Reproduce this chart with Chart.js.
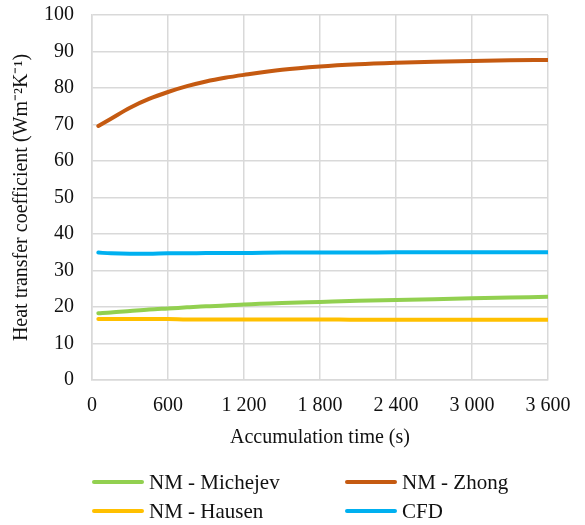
<!DOCTYPE html>
<html>
<head>
<meta charset="utf-8">
<script src="https://cdn.jsdelivr.net/npm/chart.js@4.4.0/dist/chart.umd.min.js"></script>
<style>
  html, body { margin: 0; padding: 0; background: #fff; }
  .wrap { position: relative; width: 585px; height: 525px; }
  #htcChart { display: block; }
  .legend {
    position: absolute; left: 92px; top: 470px;
    display: grid; grid-template-columns: 253px 200px; row-gap: 5px;
    font-family: "Liberation Serif", "Times New Roman", serif; font-size: 21px; color: #111;
  }
  .legend-item { display: flex; align-items: center; height: 24px; }
  .legend-item .swatch { width: 52px; height: 4px; border-radius: 2px; margin-right: 5px; }
</style>
</head>
<body>
<div class="wrap">
  <canvas id="htcChart" width="585" height="525"></canvas>
  <div class="legend" id="legend"></div>
</div>
<script>
  // accumulation time (s)
  const times = [50, 150, 300, 450, 600, 750, 900, 1050, 1200, 1500, 1800, 2100, 2400, 2700, 3000, 3300, 3600];

  // heat transfer coefficient (W m-2 K-1)
  const michejev = [18.3, 18.5, 18.9, 19.3, 19.6, 19.9, 20.2, 20.4, 20.7, 21.1, 21.4, 21.7, 21.9, 22.1, 22.4, 22.6, 22.8];
  const zhong = [69.6, 71.6, 74.6, 77.0, 78.9, 80.5, 81.8, 82.8, 83.6, 85.0, 85.9, 86.5, 86.9, 87.2, 87.4, 87.6, 87.7];
  const hausen = [16.7, 16.7, 16.7, 16.7, 16.7, 16.6, 16.6, 16.6, 16.6, 16.6, 16.6, 16.5, 16.5, 16.5, 16.5, 16.5, 16.5];
  const cfd = [34.9, 34.7, 34.6, 34.6, 34.7, 34.7, 34.8, 34.8, 34.8, 34.9, 34.9, 34.9, 35.0, 35.0, 35.0, 35.0, 35.0];

  const seriesNames = ['NM - Michejev', 'NM - Zhong', 'NM - Hausen', 'CFD'];
  const seriesColors = ['#92d050', '#c55a11', '#ffc000', '#00b0f0'];
  const seriesValues = [michejev, zhong, hausen, cfd];

  const xTicks = [0, 600, 1200, 1800, 2400, 3000, 3600];

  const serif = '"Liberation Serif", "Times New Roman", serif';
  const gridColor = '#d9d9d9';

  const datasets = seriesNames.map((name, i) => ({
    label: name,
    data: times.map((t, j) => ({ x: t, y: seriesValues[i][j] })),
    borderColor: seriesColors[i],
    backgroundColor: seriesColors[i],
    borderWidth: 4,
    pointRadius: 0,
    cubicInterpolationMode: 'monotone',
    borderCapStyle: 'round'
  }));

  // thousands with a space, e.g. 1 200
  function fmtTime(v) {
    return String(v).replace(/\B(?=(\d{3})+(?!\d))/g, ' ');
  }

  const ctx = document.getElementById('htcChart').getContext('2d');
  new Chart(ctx, {
    type: 'line',
    data: { datasets },
    options: {
      responsive: false,
      animation: false,
      layout: { padding: { top: 15, right: 37, bottom: 75, left: 0 } },
      plugins: { legend: { display: false }, tooltip: { enabled: false } },
      scales: {
        x: {
          type: 'linear',
          min: 0, max: 3600,
          afterBuildTicks: (scale) => { scale.ticks = xTicks.map(v => ({ value: v })); },
          afterFit: (scale) => { scale.height = 70; scale.paddingLeft = 0; scale.paddingRight = 0; },
          grid: { color: gridColor, lineWidth: 1.5, drawTicks: false },
          border: { color: gridColor, width: 1.5 },
          ticks: {
            padding: 14, color: '#111', maxRotation: 0,
            font: { family: serif, size: 20 },
            callback: (v) => fmtTime(v)
          },
          title: {
            display: true, text: 'Accumulation time (s)', color: '#111',
            font: { family: serif, size: 20 }, padding: { top: 4, bottom: 0 }
          }
        },
        y: {
          min: 0, max: 100,
          afterFit: (scale) => { scale.width = 92; scale.paddingTop = 0; scale.paddingBottom = 0; },
          grid: { color: gridColor, lineWidth: 1.5, drawTicks: false },
          border: { color: gridColor, width: 1.5 },
          ticks: {
            stepSize: 10, padding: 18, color: '#111',
            font: { family: serif, size: 20 }
          },
          title: {
            display: true, text: 'Heat transfer coefficient (Wm⁻²K⁻¹)', color: '#111',
            font: { family: serif, size: 20 }, padding: { top: 10, bottom: 0 }
          }
        }
      }
    }
  });

  // two-column legend below the plot
  const legendEl = document.getElementById('legend');
  seriesNames.forEach((name, i) => {
    const item = document.createElement('div');
    item.className = 'legend-item';
    const sw = document.createElement('span');
    sw.className = 'swatch';
    sw.style.background = seriesColors[i];
    const label = document.createElement('span');
    label.textContent = name;
    item.appendChild(sw);
    item.appendChild(label);
    legendEl.appendChild(item);
  });
</script>
</body>
</html>
